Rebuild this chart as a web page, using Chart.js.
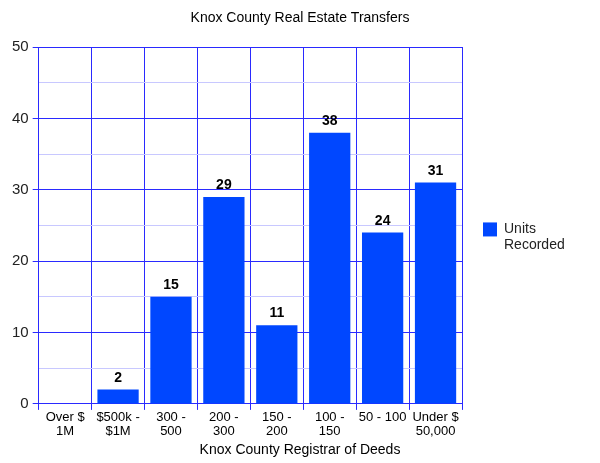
<!DOCTYPE html>
<html>
<head>
<meta charset="utf-8">
<script src="https://cdn.jsdelivr.net/npm/chart.js@4/dist/chart.umd.min.js"></script>
<style>
  html, body { margin: 0; padding: 0; background: #fff; }
</style>
</head>
<body>
<canvas id="grafico" width="600" height="463"></canvas>
<script>
// dados
const categorias = [["Over $", "1M"], ["$500k -", "$1M"], ["300 -", "500"], ["200 -", "300"],
  ["150 -", "200"], ["100 -", "150"], ["50 - 100"], ["Under $", "50,000"]];
const unidades = [0, 2, 15, 29, 11, 38, 24, 31];
const nomeSerie = ["Units", "Recorded"];
const titulo = "Knox County Real Estate Transfers";
const tituloX = "Knox County Registrar of Deeds";

const azulBarra = "#0047ff";
const azulGrade = "#2a2aff";
const azulClaro = "#c8c8ff";
const fonte = "'Liberation Sans', Arial, sans-serif";

// rotulos em cima das barras
const rotulos = {
  id: "rotulos",
  afterDatasetsDraw(chart) {
    const ctx = chart.ctx;
    const meta = chart.getDatasetMeta(0);
    ctx.save();
    ctx.font = "bold 14px " + fonte;
    ctx.fillStyle = "#000";
    ctx.textAlign = "center";
    ctx.textBaseline = "alphabetic";
    meta.data.forEach((bar, i) => {
      if (unidades[i] === 0) return;
      ctx.fillText(unidades[i], bar.x, bar.y - 8);
    });
    ctx.restore();
  }
};

// titulos centrados na pagina e legenda a direita
const textos = {
  id: "textos",
  afterDraw(chart) {
    const ctx = chart.ctx;
    const area = chart.chartArea;
    ctx.save();
    ctx.fillStyle = "#000";
    ctx.textAlign = "center";
    ctx.textBaseline = "middle";
    ctx.font = "14px " + fonte;
    ctx.fillText(titulo, chart.width / 2, 18);
    ctx.fillText(tituloX, chart.width / 2, 450);

    const x = area.right + 21;
    const y = (area.top + area.bottom) / 2 - 3;
    ctx.fillStyle = azulBarra;
    ctx.fillRect(x, y, 14, 14);
    ctx.fillStyle = "#222";
    ctx.textAlign = "left";
    nomeSerie.forEach((t, i) => ctx.fillText(t, x + 21, y + 7 + i * 16));
    ctx.restore();
  }
};

const ctx = document.getElementById("grafico").getContext("2d");
const myChart = new Chart(ctx, {
  type: "bar",
  data: {
    labels: categorias,
    datasets: [{
      label: nomeSerie.join(" "),
      data: unidades,
      backgroundColor: azulBarra,
      borderWidth: 0,
      inflateAmount: 0,
      barPercentage: 0.78,
      categoryPercentage: 1
    }]
  },
  plugins: [rotulos, textos],
  options: {
    responsive: false,
    devicePixelRatio: 1,
    animation: false,
    layout: { padding: { left: 8, right: 138, top: 47, bottom: 24 } },
    plugins: {
      legend: { display: false },
      tooltip: { enabled: false },
      title: { display: false }
    },
    scales: {
      x: {
        grid: {
          color: azulGrade,
          tickColor: azulGrade,
          tickLength: 6,
          offset: true
        },
        border: { color: azulGrade },
        ticks: {
          color: "#000",
          maxRotation: 0,
          autoSkip: false,
          padding: 0,
          font: { family: fonte, size: 13, lineHeight: 1.12 }
        }
      },
      y: {
        min: 0,
        max: 50,
        grid: {
          color: c => (c.tick && c.tick.value % 10 === 0) ? azulGrade : azulClaro,
          tickColor: c => (c.tick && c.tick.value % 10 === 0) ? azulGrade : "rgba(0,0,0,0)",
          tickLength: 6
        },
        border: { color: azulGrade },
        ticks: {
          stepSize: 5,
          color: "#222",
          padding: 4,
          font: { family: fonte, size: 15 },
          callback: v => (v % 10 === 0 ? v : "")
        }
      }
    }
  }
});
</script>
</body>
</html>
